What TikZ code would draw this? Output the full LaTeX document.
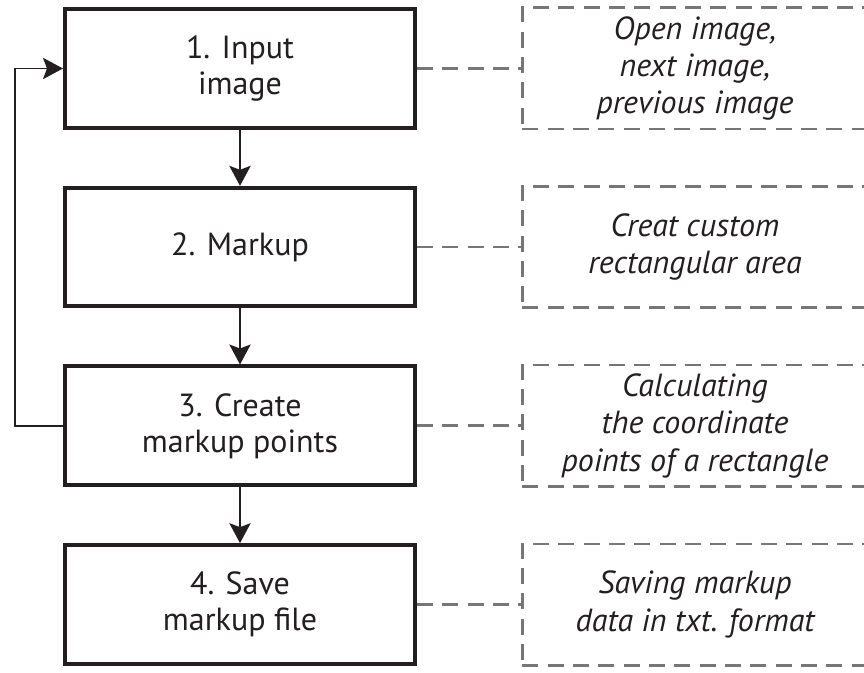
\documentclass[tikz,border=0pt]{standalone}
\usepackage{fontspec}
\setmainfont{PT Sans}
\usetikzlibrary{positioning,arrows.meta}
\definecolor{ink}{HTML}{231F20}
\definecolor{dashgray}{HTML}{767676}

\begin{document}
\begin{tikzpicture}[
        x=0.75pt, y=-0.75pt,
        node distance=42pt and 78pt,
        stepbox/.style={draw=ink, line width=3pt, rectangle, minimum width=262.5pt, minimum height=89pt, align=center, text=ink, font=\fontsize{24}{27}\selectfont},
        notebox/.style={draw=dashgray, line width=2pt, dash pattern=on 12pt off 7pt, rectangle, minimum width=259pt, minimum height=91pt, align=center, text=ink, font=\fontsize{24}{28}\selectfont\itshape},
        flow/.style={draw=ink, line width=1.2pt, -{Stealth[length=15pt,width=16pt,inset=3pt]}},
        link/.style={draw=dashgray, line width=2pt, dash pattern=on 12pt off 7pt}
    ]
    \useasboundingbox (0,0) rectangle (864,673);
    % processing steps
    \node[stepbox] (s1) at (240,68.5) {1. Input\\image};
    \node[stepbox, below=of s1] (s2) {2. Markup};
    \node[stepbox, below=of s2] (s3) {3. Create\\markup points};
    \node[stepbox, below=of s3] (s4) {4. Save\\markup file};
    % notes on the right
    \node[notebox, right=of s1] (n1) {Open image,\\next image,\\previous image};
    \node[notebox, right=of s2] (n2) {Creat custom\\rectangular area};
    \node[notebox, right=of s3] (n3) {Calculating\\the coordinate\\points of a rectangle};
    \node[notebox, right=of s4] (n4) {Saving markup\\data in txt. format};
    % arrows
    \draw[flow] (s1) -- (s2);
    \draw[flow] (s2) -- (s3);
    \draw[flow] (s3) -- (s4);
    \draw[flow] (s3.west) -- ++(-48,0) |- (s1.west);
    \foreach \i in {1,...,4}
        \draw[link] (s\i.east) -- (n\i.west);
\end{tikzpicture}
\end{document}
